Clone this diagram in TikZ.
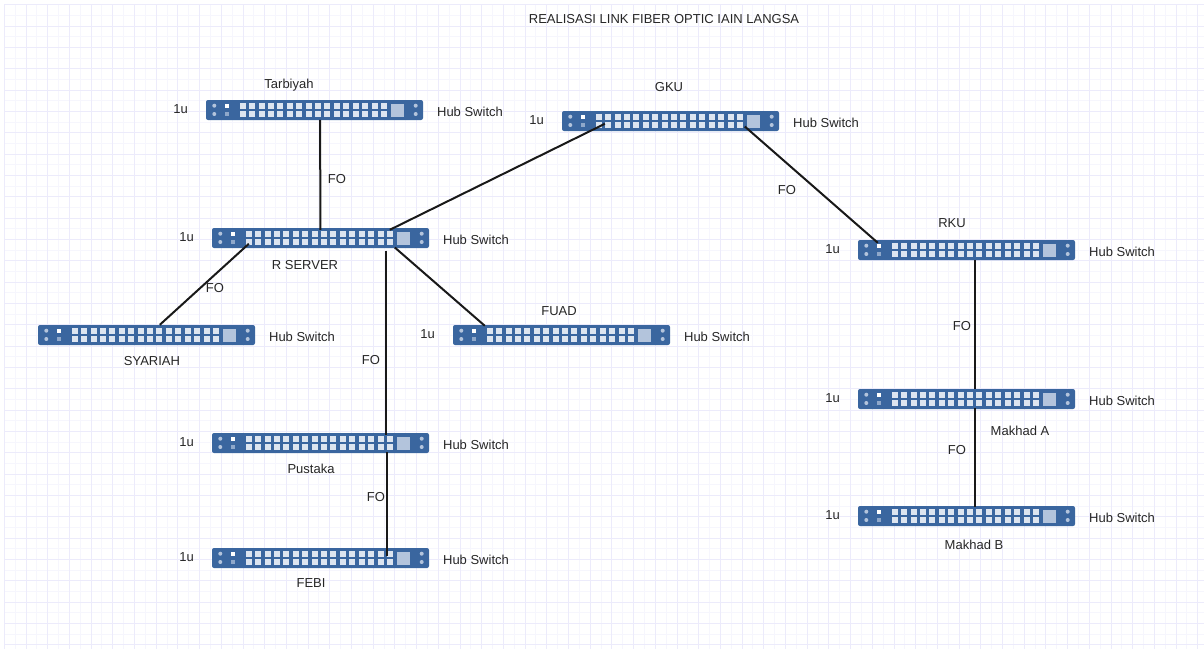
\documentclass[tikz,border=0pt]{standalone}
\usepackage{fontspec}
\setmainfont{Liberation Sans}
\definecolor{hubblue}{HTML}{3A669F}
\definecolor{hubport}{HTML}{DDE5F0}
\definecolor{hubpanel}{HTML}{B3C4DC}
\definecolor{gridmajor}{HTML}{ECEBFB}
\definecolor{gridminor}{HTML}{F6F6FD}
\definecolor{labelgray}{HTML}{262626}
\tikzset{
    hubswitch/.style={rectangle, rounded corners=2pt, fill=hubblue, minimum width=217pt, minimum height=20pt, inner sep=0pt,
        path picture={
            \foreach \c in {0,...,15} \foreach \r in {2.7,11}
                \fill[hubport, sharp corners] ([shift={(33.7+9.42*\c,\r)}]path picture bounding box.north west) rectangle +(6,6);
            \fill[hubpanel, sharp corners] ([shift={(185.2,3.5)}]path picture bounding box.north west) rectangle +(13,13);
            \foreach \c in {8.3,209.7} \foreach \r in {5.7,14}
                \fill[hubpanel] ([shift={(\c,\r)}]path picture bounding box.north west) circle (2);
            \fill[white, sharp corners] ([shift={(19,3.7)}]path picture bounding box.north west) rectangle +(4,4);
            \fill[hubpanel!70!hubblue, sharp corners] ([shift={(19,12)}]path picture bounding box.north west) rectangle +(4,4);
        }},
    lbl/.style={inner sep=0pt, text=labelgray, font=\fontsize{13}{15}\selectfont},
    fo/.style={line width=2pt, draw=black!90},
}
\begin{document}
\begin{tikzpicture}[x=1pt,y=-1pt]
    \useasboundingbox (0,0) rectangle (1204,649);
    % squared paper
    \foreach \k in {0,...,111} {
        \draw[gridminor, line width=1pt] (4.3+10.85*\k,4.8) -- (4.3+10.85*\k,649);
    }
    \foreach \k in {0,...,60} {
        \draw[gridminor, line width=1pt] (4.3,4.8+10.665*\k) -- (1204,4.8+10.665*\k);
    }
    \foreach \k in {0,...,55} {
        \draw[gridmajor, line width=1pt] (4.3+21.7*\k,4.8) -- (4.3+21.7*\k,649);
    }
    \foreach \k in {0,...,30} {
        \draw[gridmajor, line width=1pt] (4.3,4.8+21.33*\k) -- (1204,4.8+21.33*\k);
    }
    \node[lbl] (title) at (664,19.5) {REALISASI LINK FIBER OPTIC IAIN LANGSA};
    % switches
    \foreach \name/\x/\y in {tarbiyah/314.5/110, gku/670.5/121, rserver/320.5/238, syariah/146.5/335, fuad/561.5/335, pustaka/320.5/443, febi/320.5/558, rku/966.5/250, makhada/966.5/399, makhadb/966.5/516}
    {
        \node[hubswitch] (\name) at (\x,\y) {};
        \node[lbl] (\name-hub) at (\x+155.5,\y+1.5) {Hub Switch};
    }
    \foreach \name in {tarbiyah, gku, rserver, fuad, pustaka, febi, rku, makhada, makhadb}
    {
        \node[lbl] (\name-u) at ([shift={(-134,-0.5)}]\name.center) {1u};
    }
    % names
    \node[lbl] (tarbiyah-name) at (289,85) {Tarbiyah};
    \node[lbl] (gku-name) at (669,87.5) {GKU};
    \node[lbl] (rserver-name) at (305,265.5) {R SERVER};
    \node[lbl] (syariah-name) at (152,361.5) {SYARIAH};
    \node[lbl] (fuad-name) at (559,311.5) {FUAD};
    \node[lbl] (pustaka-name) at (311,469) {Pustaka};
    \node[lbl] (febi-name) at (311,583.5) {FEBI};
    \node[lbl] (rku-name) at (952,223.5) {RKU};
    \node[lbl] (makhada-name) at (1020,430.5) {Makhad A};
    \node[lbl] (makhadb-name) at (974,544.5) {Makhad B};
    % fiber links
    \draw[fo] ([shift={(114.4,20)}]tarbiyah.north west) -- ([shift={(108.5,2)}]rserver.north west);
    \draw[fo] ([shift={(178,2)}]rserver.north west) -- ([shift={(43,13)}]gku.north west);
    \draw[fo] ([shift={(37,16)}]rserver.north west) -- ([shift={(122,0)}]syariah.north west);
    \draw[fo] ([shift={(174,22.7)}]rserver.north west) -- ([shift={(174,2)}]pustaka.north west);
    \draw[fo] ([shift={(175.3,19.3)}]pustaka.north west) -- ([shift={(175.3,8)}]febi.north west);
    \draw[fo] ([shift={(183,19.7)}]rserver.north west) -- ([shift={(32,1)}]fuad.north west);
    \draw[fo] ([shift={(183,15.7)}]gku.north west) -- ([shift={(20,3)}]rku.north west);
    \draw[fo] ([shift={(116.7,20)}]rku.north west) -- ([shift={(116.7,0)}]makhada.north west);
    \draw[fo] ([shift={(116.7,19)}]makhada.north west) -- ([shift={(116.7,1)}]makhadb.north west);
    % link labels
    \node[lbl] (fo-tarbiyah) at (337,179.5) {FO};
    \node[lbl] (fo-rku) at (787,190.5) {FO};
    \node[lbl] (fo-syariah) at (215,288.5) {FO};
    \node[lbl] (fo-pustaka) at (371,360.5) {FO};
    \node[lbl] (fo-febi) at (376,497.5) {FO};
    \node[lbl] (fo-makhada) at (962,326.5) {FO};
    \node[lbl] (fo-makhadb) at (957,450.5) {FO};
\end{tikzpicture}
\end{document}
